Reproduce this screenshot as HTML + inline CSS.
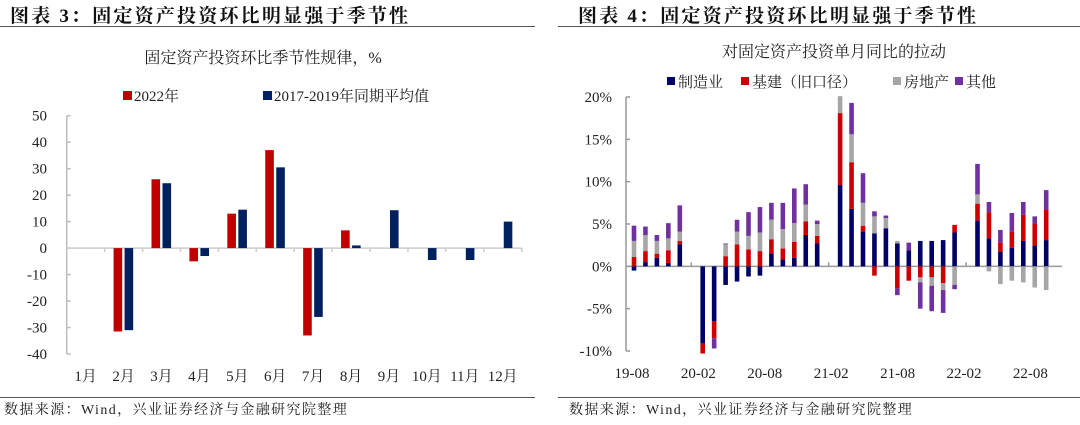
<!DOCTYPE html>
<html><head><meta charset="utf-8">
<style>
html,body{margin:0;padding:0;background:#fff;}
body{width:1080px;height:420px;overflow:hidden;font-family:"Liberation Serif","Noto Serif CJK SC",serif;}
svg text{font-family:"Liberation Serif","Noto Serif CJK SC",serif;}
</style></head>
<body>
<svg id="root" width="1080" height="420" viewBox="0 0 1080 420">
  <g>
    <text x="10" y="22" font-size="19" font-weight="bold" letter-spacing="2.2" fill="#111">图表 3：固定资产投资环比明显强于季节性</text>
    <line x1="0" y1="26.5" x2="535" y2="26.5" stroke="#555" stroke-width="1"/>
  </g>
  <g>
    <text x="578" y="22" font-size="19" font-weight="bold" letter-spacing="2.2" fill="#111">图表 4：固定资产投资环比明显强于季节性</text>
    <line x1="558" y1="26.5" x2="1080" y2="26.5" stroke="#555" stroke-width="1"/>
  </g>
  <text x="263" y="63" font-size="16" text-anchor="middle" fill="#222">固定资产投资环比季节性规律，%</text>
  <g>
    <rect x="123" y="91" width="9" height="9" fill="#C00000"/>
    <text x="134" y="101" font-size="15" fill="#222">2022年</text>
    <rect x="263" y="91" width="9" height="9" fill="#002060"/>
    <text x="274" y="101" font-size="15" fill="#222">2017-2019年同期平均值</text>
  </g>
  <g id="leftChart"></g>
  <text x="834" y="57" font-size="16" text-anchor="middle" fill="#222">对固定资产投资单月同比的拉动</text>
  <g>
    <rect x="667" y="77" width="8" height="8" fill="#000066"/>
    <text x="678" y="87" font-size="15" fill="#222">制造业</text>
    <rect x="741" y="77" width="8" height="8" fill="#CC0000"/>
    <text x="752" y="87" font-size="15" fill="#222">基建（旧口径）</text>
    <rect x="893" y="77" width="8" height="8" fill="#A6A6A6"/>
    <text x="904" y="87" font-size="15" fill="#222">房地产</text>
    <rect x="955" y="77" width="8" height="8" fill="#7030A0"/>
    <text x="966" y="87" font-size="15" fill="#222">其他</text>
  </g>
  <g id="rightChart"></g>
  <line x1="0" y1="397.5" x2="535" y2="397.5" stroke="#555" stroke-width="1"/>
  <line x1="558" y1="397.5" x2="1080" y2="397.5" stroke="#555" stroke-width="1"/>
  <text x="4" y="414" font-size="14" letter-spacing="1.4" fill="#222">数据来源：Wind，兴业证券经济与金融研究院整理</text>
  <text x="569" y="414" font-size="14" letter-spacing="1.4" fill="#222">数据来源：Wind，兴业证券经济与金融研究院整理</text>
</svg>
<script>
// ---- Left chart data ----
var leftCategories = ["1月","2月","3月","4月","5月","6月","7月","8月","9月","10月","11月","12月"];
var series2022 = [null,-31.5,26,-5,13,37,-33,6.7,null,null,null,null];
var seriesAvg = [null,-31,24.5,-3,14.5,30.5,-26,1,14.3,-4.5,-4.5,10];
var leftTicks = [50,40,30,20,10,0,-10,-20,-30,-40];

// ---- Right chart data ----
var rightMonths = ["19-08","19-09","19-10","19-11","19-12","20-01","20-02","20-03","20-04","20-05","20-06","20-07","20-08","20-09","20-10","20-11","20-12","21-01","21-02","21-03","21-04","21-05","21-06","21-07","21-08","21-09","21-10","21-11","21-12","22-01","22-02","22-03","22-04","22-05","22-06","22-07","22-08"];
var mfg   = [-0.5,0.5,1.0,0.4,2.6,null,-9.1,-6.5,-2.2,-1.8,-1.2,-1.1,1.5,0.8,1.0,3.7,2.7,null,9.6,6.8,4.1,3.9,4.5,2.7,1.9,3.0,3.0,3.1,4.0,null,5.4,3.3,1.7,2.2,3.0,2.4,3.1];
var infra = [1.1,1.3,0.5,1.5,0.4,null,-1.2,-2.0,1.2,2.6,2.0,1.8,1.7,1.3,1.9,1.6,0.9,null,8.5,5.5,0.7,-1.1,0,-2.6,-1.7,-1.3,-1.3,-2.0,0.9,null,2.0,3.1,1.1,1.9,3.1,2.6,3.6];
var realEstate = [1.9,1.9,1.5,1.4,1.1,null,0,0,1.4,1.5,1.6,2.2,2.3,2.3,2.2,2.0,1.4,null,2.0,3.3,2.7,2.0,1.2,0.3,0,-0.6,-1.0,-0.8,-2.2,null,1.1,-0.6,-2.1,-1.7,-1.9,-2.5,-2.8];
var other = [1.8,1.0,0.7,1.8,3.1,null,0,-1.2,0.1,1.4,2.8,3.0,2.0,3.1,4.1,2.4,0.4,null,0,3.7,3.5,0.6,0.3,-0.8,0.9,-3.1,-3.0,-2.7,-0.5,null,3.6,1.2,1.5,2.2,1.5,0.9,2.3];
var rightTicks = [20,15,10,5,0,-5,-10];
var rightLabels = ["19-08","20-02","20-08","21-02","21-08","22-02","22-08"];

var NS = "http://www.w3.org/2000/svg";
function mk(tag, attrs, parent){ var e=document.createElementNS(NS,tag); for(var k in attrs) e.setAttribute(k,attrs[k]); parent.appendChild(e); return e; }

// ---- Left chart ----
(function(){
  var g = document.getElementById("leftChart");
  var x0=66.7, x1=521.7, yTop=115.7, yBot=354, vMax=50, vMin=-40;
  function y(v){ return yTop + (vMax - v)/(vMax - vMin)*(yBot - yTop); }
  var cw = (x1-x0)/leftCategories.length;
  function cx(i){ return x0 + cw*(i+0.5); }
  var ax = mk("line",{x1:x0,y1:yTop,x2:x0,y2:yBot,stroke:"#bbb","stroke-width":1.5},g);
  
  
  leftTicks.forEach(function(t){
    var tk = mk("line",{x1:x0,y1:y(t),x2:x0+4,y2:y(t),stroke:"#bbb","stroke-width":1.5},g);
    
    
    var tl = mk("text",{x:47,y:y(t)+5,"font-size":15,"text-anchor":"end",fill:"#222"},g);
    tl.textContent = t;
    
    
  });
  var zl = mk("line",{x1:x0,y1:y(0),x2:x1,y2:y(0),stroke:"#ccc","stroke-width":1.5},g);
  
  
  leftCategories.forEach(function(c,i){
    var tk = mk("line",{x1:x0+cw*(i+1),y1:y(0),x2:x0+cw*(i+1),y2:y(0)+4,stroke:"#ccc","stroke-width":1.5},g);
    
    
    var tl = mk("text",{x:cx(i),y:381,"font-size":15,"text-anchor":"middle",fill:"#222"},g);
    tl.textContent = c;
    
    
    var v = series2022[i];
    if(v!==null){
      var r = mk("rect",{x:cx(i)-10,y:Math.min(y(v),y(0)),width:8.6,height:Math.abs(y(v)-y(0)),fill:"#C00000"},g);
      
      
    }
    var a = seriesAvg[i];
    if(a!==null){
      var r2 = mk("rect",{x:cx(i)+1,y:Math.min(y(a),y(0)),width:8.6,height:Math.abs(y(a)-y(0)),fill:"#002060"},g);
      
      
    }
  });
})();

// ---- Right chart ----
(function(){
  var g = document.getElementById("rightChart");
  var axX=626, xFirst=634, step=11.45, yTop=97, yBot=351, vMax=20, vMin=-10, xEnd=1062;
  function y(v){ return yTop + (vMax - v)/(vMax - vMin)*(yBot - yTop); }
  function x(i){ return xFirst + step*i; }
  var ax = mk("line",{x1:axX,y1:yTop,x2:axX,y2:yBot,stroke:"#999","stroke-width":1.5},g);
  
  
  rightTicks.forEach(function(t){
    var tk = mk("line",{x1:axX,y1:y(t),x2:axX+4,y2:y(t),stroke:"#999","stroke-width":1.5},g);
    
    
    var tl = mk("text",{x:612,y:y(t)+5,"font-size":15,"text-anchor":"end",fill:"#222"},g);
    tl.textContent = t+"%";
    
    
  });
  var zl = mk("line",{x1:axX,y1:y(0),x2:xEnd,y2:y(0),stroke:"#999","stroke-width":1.5},g);
  
  
  var comps = [[mfg,"#000066","mfg"],[infra,"#CC0000","infra"],[realEstate,"#A6A6A6","realestate"],[other,"#7030A0","other"]];
  rightMonths.forEach(function(m,i){
    if(m.slice(3)==="01"){
      var tk = mk("line",{x1:x(i),y1:y(0),x2:x(i),y2:y(0)-4,stroke:"#999","stroke-width":1.5},g);
      
      
    }
    var pos=0, neg=0;
    comps.forEach(function(c){
      var v = c[0][i];
      if(v===null || v===0) return;
      var a, b;
      if(v>0){ a=pos; b=pos+v; pos=b; } else { a=neg; b=neg+v; neg=b; }
      var r = mk("rect",{x:x(i)-2.3,y:Math.min(y(a),y(b)),width:4.6,height:Math.abs(y(a)-y(b)),fill:c[1]},g);
      
      
    });
  });
  rightLabels.forEach(function(l,k){
    var tl = mk("text",{x:632+k*66.4,y:378,"font-size":15,"text-anchor":"middle",fill:"#222"},g);
    tl.textContent = l;
    
    
  });
})();
</script>
</body></html>
